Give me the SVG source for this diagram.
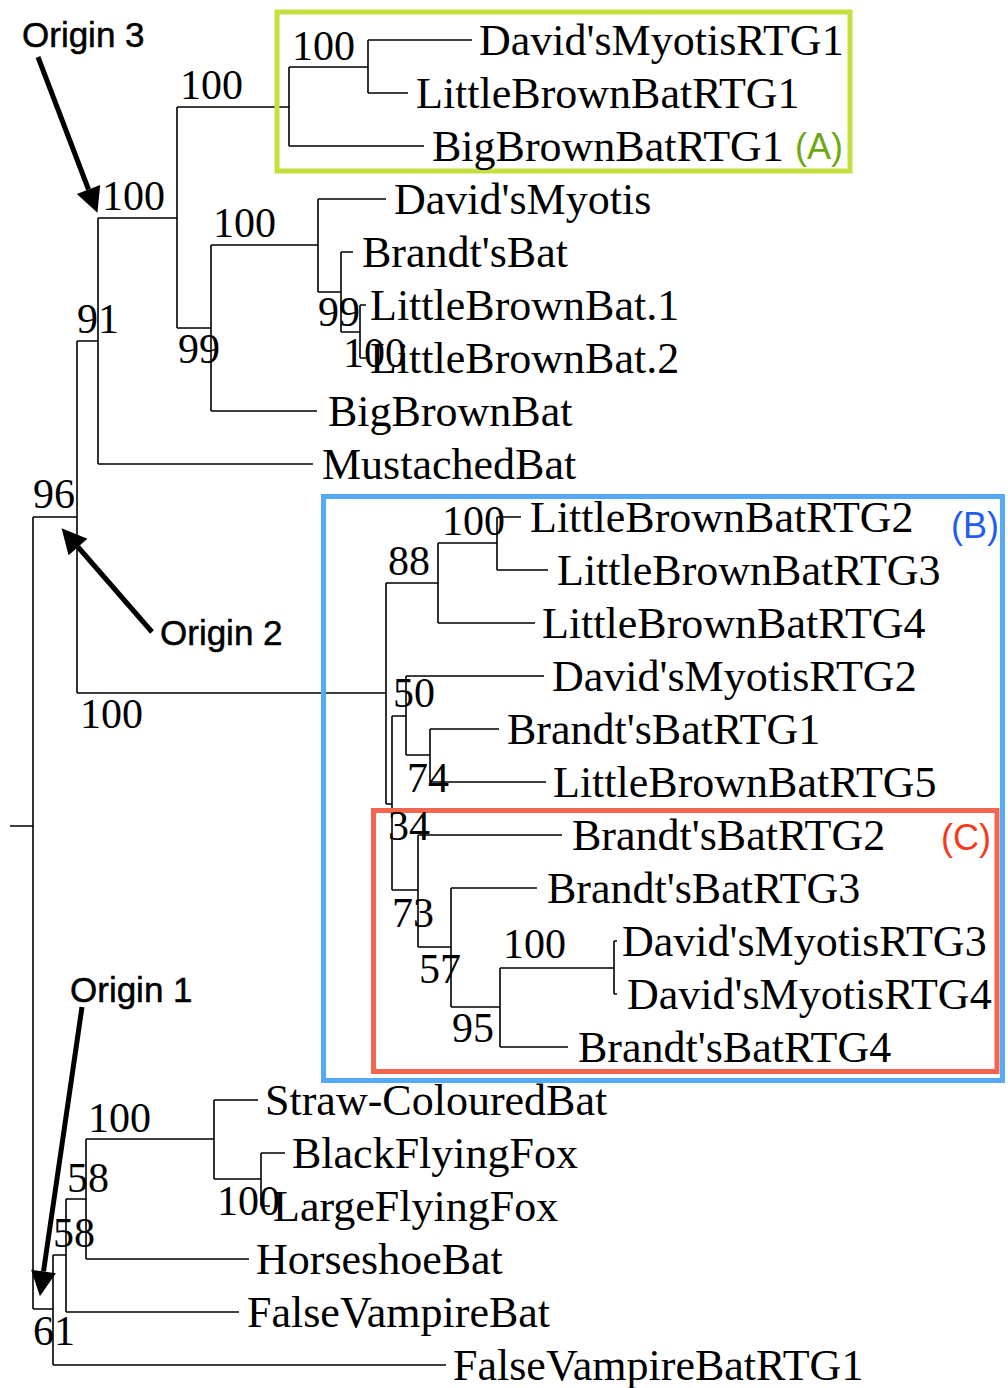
<svg xmlns="http://www.w3.org/2000/svg" width="1008" height="1388" viewBox="0 0 1008 1388">
<style>
.leaf{font-family:"Liberation Serif","Times New Roman",serif;font-size:44px;fill:#000}
.bs{font-family:"Liberation Serif","Times New Roman",serif;font-size:42px;fill:#000}
.origin{font-family:"Liberation Sans",Arial,sans-serif;font-size:35px;fill:#000;stroke:#000;stroke-width:0.5}
.tag{font-family:"Liberation Sans",Arial,sans-serif;font-size:36px}
.tree{fill:none;stroke:#000;stroke-width:1.6}
.arrow{stroke:#000;stroke-width:5;fill:none}
</style>
<defs>
<marker id="head" markerUnits="userSpaceOnUse" markerWidth="26" markerHeight="26" refX="0" refY="12.5" orient="auto" viewBox="0 0 26 26" overflow="visible">
<path d="M0,0 L25,12.5 L0,25 z" fill="#000"/>
</marker>
</defs>
<rect width="1008" height="1388" fill="#fff"/>
<g id="connectors">
<path class="tree" d="M10,826 H33 M33,517 V1309 M33,517 H77 M77,341 V693 M77,341 H98 M98,218 V464 M98,218 H177 M177,107 V328 M177,107 H289 M289,67 V146 M289,67 H368 M368,40 V93 M368,40 H472 M368,93 H408 M289,146 H424 M177,328 H211 M211,245 V411 M211,245 H318 M318,199 V292 M318,199 H386 M318,292 H341 M341,252 V332 M341,252 H353 M341,332 H360 M360,305 V358 M360,305 H366 M360,358 H366 M211,411 H317 M98,464 H313"/>
<path class="tree" d="M77,693 H386 M386,583 V804 M386,583 H438 M438,543 V623 M438,543 H497 M497,517 V570 M497,517 H521 M497,570 H548 M438,623 H535 M386,804 H392 M392,716 V890 M392,716 H406 M406,676 V755 M406,676 H544 M406,755 H430 M430,729 V782 M430,729 H499 M430,782 H546 M392,890 H418 M418,835 V947 M418,835 H562 M418,947 H451 M451,888 V1007 M451,888 H537 M451,1007 H500 M500,968 V1047 M500,968 H614 M614,941 V994 M614,941 H617 M614,994 H617 M500,1047 H568"/>
<path class="tree" d="M33,1309 H53 M53,1255 V1365 M53,1255 H66 M66,1199 V1312 M66,1199 H86 M86,1139 V1259 M86,1139 H214 M214,1100 V1179 M214,1100 H258 M214,1179 H261 M261,1153 V1206 M261,1153 H285 M261,1206 H270 M86,1259 H249 M66,1312 H239 M53,1365 H446"/>
</g>
<g id="highlight-boxes">
<rect id="box-A" x="277" y="12" width="573" height="159" fill="none" stroke="#c3e03e" stroke-width="5"/>
<rect id="box-B" x="323.5" y="496.5" width="679" height="584" fill="none" stroke="#56a9f6" stroke-width="5"/>
<rect id="box-C" x="373.5" y="810.5" width="623.5" height="261" fill="none" stroke="#f2654f" stroke-width="5"/>
</g>
<g id="leaves">
<g id="leaf-1"><text class="leaf" x="479" y="55">David'sMyotisRTG1</text></g>
<g id="leaf-2"><text class="leaf" x="416" y="108">LittleBrownBatRTG1</text></g>
<g id="leaf-3"><text class="leaf" x="432" y="161">BigBrownBatRTG1</text></g>
<g id="leaf-4"><text class="leaf" x="394" y="214">David'sMyotis</text></g>
<g id="leaf-5"><text class="leaf" x="362" y="267">Brandt'sBat</text></g>
<g id="leaf-6"><text class="leaf" x="370" y="320">LittleBrownBat.1</text></g>
<g id="leaf-7"><text class="leaf" x="370" y="373">LittleBrownBat.2</text></g>
<g id="leaf-8"><text class="leaf" x="328" y="426">BigBrownBat</text></g>
<g id="leaf-9"><text class="leaf" x="322" y="479">MustachedBat</text></g>
<g id="leaf-10"><text class="leaf" x="530" y="532">LittleBrownBatRTG2</text></g>
<g id="leaf-11"><text class="leaf" x="557" y="585">LittleBrownBatRTG3</text></g>
<g id="leaf-12"><text class="leaf" x="542" y="638">LittleBrownBatRTG4</text></g>
<g id="leaf-13"><text class="leaf" x="552" y="691">David'sMyotisRTG2</text></g>
<g id="leaf-14"><text class="leaf" x="507" y="744">Brandt'sBatRTG1</text></g>
<g id="leaf-15"><text class="leaf" x="553" y="797">LittleBrownBatRTG5</text></g>
<g id="leaf-16"><text class="leaf" x="572" y="850">Brandt'sBatRTG2</text></g>
<g id="leaf-17"><text class="leaf" x="547" y="903">Brandt'sBatRTG3</text></g>
<g id="leaf-18"><text class="leaf" x="622" y="956">David'sMyotisRTG3</text></g>
<g id="leaf-19"><text class="leaf" x="627" y="1009">David'sMyotisRTG4</text></g>
<g id="leaf-20"><text class="leaf" x="578" y="1062">Brandt'sBatRTG4</text></g>
<g id="leaf-21"><text class="leaf" x="265" y="1115">Straw-ColouredBat</text></g>
<g id="leaf-22"><text class="leaf" x="292" y="1168">BlackFlyingFox</text></g>
<g id="leaf-23"><text class="leaf" x="273" y="1221">LargeFlyingFox</text></g>
<g id="leaf-24"><text class="leaf" x="256" y="1274">HorseshoeBat</text></g>
<g id="leaf-25"><text class="leaf" x="247" y="1327">FalseVampireBat</text></g>
<g id="leaf-26"><text class="leaf" x="453" y="1380">FalseVampireBatRTG1</text></g>
</g>
<g id="support-values">
<g id="n-a"><text class="bs" x="292" y="60">100</text></g>
<g id="n-b"><text class="bs" x="180" y="99">100</text></g>
<g id="n-c"><text class="bs" x="102" y="210">100</text></g>
<g id="n-d"><text class="bs" x="213" y="237">100</text></g>
<g id="n-e"><text class="bs" x="318" y="326">99</text></g>
<g id="n-f"><text class="bs" x="77" y="333">91</text></g>
<g id="n-g"><text class="bs" x="178" y="363">99</text></g>
<g id="n-h"><text class="bs" x="343" y="367">100</text></g>
<g id="n-i"><text class="bs" x="33" y="508">96</text></g>
<g id="n-j"><text class="bs" x="442" y="535">100</text></g>
<g id="n-k"><text class="bs" x="388" y="575">88</text></g>
<g id="n-l"><text class="bs" x="393" y="707">50</text></g>
<g id="n-m"><text class="bs" x="80" y="728">100</text></g>
<g id="n-n"><text class="bs" x="407" y="792">74</text></g>
<g id="n-o"><text class="bs" x="388" y="840">34</text></g>
<g id="n-p"><text class="bs" x="392" y="927">73</text></g>
<g id="n-q"><text class="bs" x="503" y="958">100</text></g>
<g id="n-r"><text class="bs" x="419" y="983">57</text></g>
<g id="n-s"><text class="bs" x="452" y="1042">95</text></g>
<g id="n-t"><text class="bs" x="88" y="1132">100</text></g>
<g id="n-u"><text class="bs" x="67" y="1192">58</text></g>
<g id="n-v"><text class="bs" x="217" y="1215">100</text></g>
<g id="n-w"><text class="bs" x="53" y="1247">58</text></g>
<g id="n-x"><text class="bs" x="33" y="1345">61</text></g>
</g>
<g id="tags">
<g id="tag-A"><text class="tag" x="795" y="159" fill="#6fa812">(A)</text></g>
<g id="tag-B"><text class="tag" x="951" y="538" fill="#1f5ef2">(B)</text></g>
<g id="tag-C"><text class="tag" x="941" y="850" fill="#f43b1c">(C)</text></g>
</g>
<g id="origins">
<g id="origin-3"><text class="origin" x="22" y="47">Origin 3</text><line class="arrow" x1="38" y1="57" x2="88.5" y2="189.5" marker-end="url(#head)"/></g>
<g id="origin-2"><text class="origin" x="160" y="645">Origin 2</text><line class="arrow" x1="152" y1="632" x2="78" y2="547" marker-end="url(#head)"/></g>
<g id="origin-1"><text class="origin" x="70" y="1002">Origin 1</text><line class="arrow" x1="82" y1="1007" x2="43.5" y2="1271.5" marker-end="url(#head)"/></g>
</g>
</svg>
